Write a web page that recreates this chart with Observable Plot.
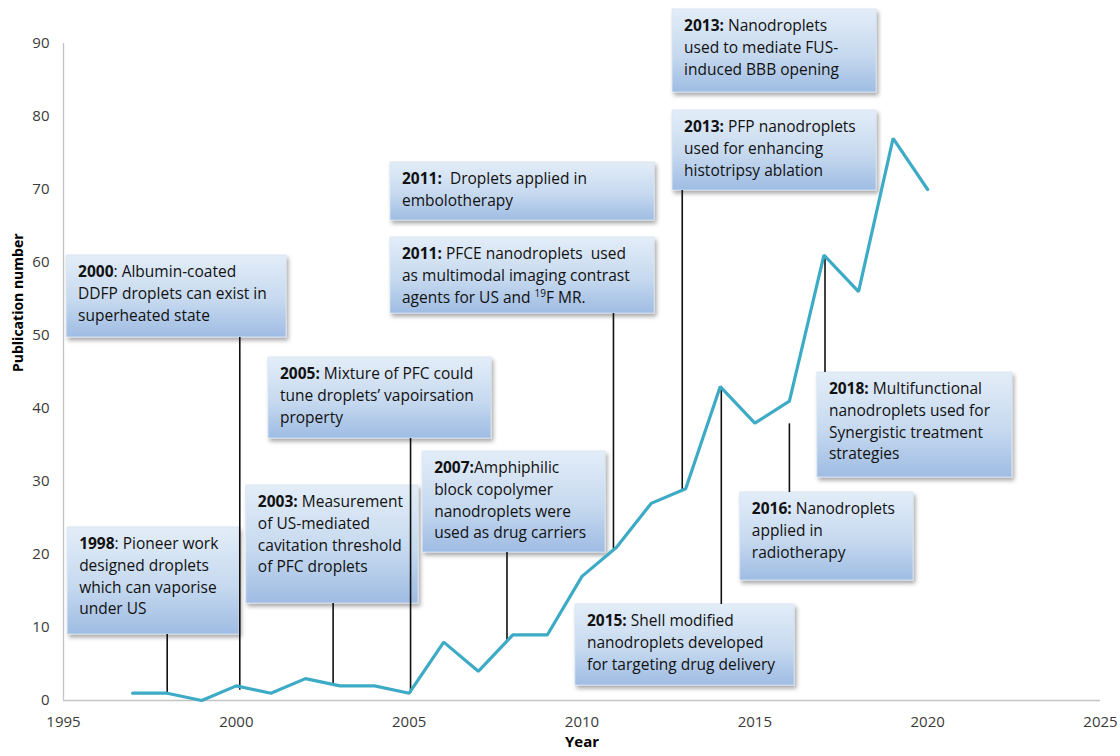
<!DOCTYPE html>
<html>
<head>
<meta charset="utf-8">
<script src="https://cdn.jsdelivr.net/npm/d3@7"></script>
<script src="https://cdn.jsdelivr.net/npm/@observablehq/plot@0.6"></script>
<style>
  html, body { margin: 0; padding: 0; background: #ffffff; }
  #chart svg { display: block; }
</style>
</head>
<body>
<div id="chart"></div>
<script>
// ---- data ----
const years  = [1997, 1998, 1999, 2000, 2001, 2002, 2003, 2004, 2005, 2006, 2007, 2008,
                2009, 2010, 2011, 2012, 2013, 2014, 2015, 2016, 2017, 2018, 2019, 2020];
const counts = [1, 1, 0, 2, 1, 3, 2, 2, 1, 8, 4, 9,
                9, 17, 21, 27, 29, 43, 38, 41, 61, 56, 77, 70];

const xTicks = [1995, 2000, 2005, 2010, 2015, 2020, 2025];
const yTicks = [0, 10, 20, 30, 40, 50, 60, 70, 80, 90];

// annotation texts: bold year label + remaining lines ("^19" = superscript)
const noteBold = ["1998", "2000", "2003:", "2005:", "2007:", "2011:", "2011:", "2013:", "2013:", "2018:", "2016:", "2015:"];
const noteLines = [
  [": Pioneer work", "designed droplets", "which can vaporise", "under US"],
  [": Albumin-coated", "DDFP droplets can exist in", "superheated state"],
  [" Measurement", "of US-mediated", "cavitation threshold", "of PFC droplets"],
  [" Mixture of PFC could", "tune droplets\u2019 vapoirsation", "property"],
  ["Amphiphilic", "block copolymer", "nanodroplets were", "used as drug carriers"],
  ["  Droplets applied in", "embolotherapy"],
  [" PFCE nanodroplets  used", "as multimodal imaging contrast", "agents for US and ^19F MR."],
  [" Nanodroplets", "used to mediate FUS-", "induced BBB opening"],
  [" PFP nanodroplets", "used for enhancing", "histotripsy ablation"],
  [" Multifunctional", "nanodroplets used for", "Synergistic treatment", "strategies"],
  [" Nanodroplets", "applied in", "radiotherapy"],
  [" Shell modified", "nanodroplets developed", "for targeting drug delivery"]
];

// annotation layout (in data units: year / publication number)
const boxX1  = [1995.12, 1995.09, 2000.29, 2000.93, 2005.39, 2004.46, 2004.46, 2012.62, 2012.62, 2016.81, 2014.58, 2009.81];
const boxX2  = [2000.09, 2001.45, 2005.27, 2007.38, 2010.68, 2012.10, 2012.10, 2018.52, 2018.52, 2022.45, 2019.59, 2016.15];
const boxTop = [23.70, 60.96, 29.45, 46.99, 34.11, 73.70, 63.42, 94.66, 80.82, 44.93, 28.49, 13.15];
const boxBot = [9.04, 49.73, 13.29, 35.89, 20.27, 65.75, 53.01, 83.29, 69.86, 30.55, 16.44, 2.05];

// leader lines from the curve to the boxes
const connX    = [1998.0, 2000.1, 2002.8, 2005.04, 2007.83, 2010.91, 2012.9, 2014.03, 2016.0, 2017.03];
const connFrom = [1.0, 1.4, 2.2, 1.0, 8.2, 20.5, 28.8, 42.7, 37.9, 60.7];
const connTo   = [9.04, 49.73, 13.29, 35.89, 20.27, 53.01, 69.86, 13.15, 28.49, 44.93];

// ---- tables ----
const series = years.map((y, i) => ({year: y, count: counts[i]}));
const boxes = boxX1.map((x1, i) => ({x1, x2: boxX2[i], top: boxTop[i], bot: boxBot[i]}));
const conns = connX.map((x, i) => ({x, y1: connFrom[i], y2: connTo[i]}));

const FONT = "'Open Sans', 'Noto Sans', sans-serif";

const plot = Plot.plot({
  width: 1120,
  height: 756,
  marginLeft: 63,
  marginRight: 20,
  marginTop: 43,
  marginBottom: 56,
  x: {domain: [1995, 2025]},
  y: {domain: [0, 90]},
  style: {fontFamily: FONT, fontSize: "15px", color: "#3a3a3a", background: "#ffffff", overflow: "visible"},
  marks: [
    Plot.ruleY([0], {stroke: "#c4c4c4", strokeWidth: 1.3}),
    Plot.ruleX([1995], {stroke: "#c4c4c4", strokeWidth: 1.3}),
    Plot.axisX({ticks: xTicks, tickSize: 0, tickPadding: 16, tickFormat: "d", label: null}),
    Plot.axisY({ticks: yTicks, tickSize: 0, tickPadding: 14, tickFormat: "d", label: null}),
    Plot.text(["Publication number"], {frameAnchor: "left", dx: -45, rotate: -90, fontWeight: "bold", fill: "#000", fontSize: 14}),
    Plot.text(["Year"], {frameAnchor: "bottom", dy: 46, fontWeight: "bold", fill: "#000", fontSize: 15}),
    Plot.rect(boxes, {x1: "x1", x2: "x2", y1: "bot", y2: "top", fill: "url(#boxGrad)", stroke: "#d6e3f3", strokeWidth: 0.8}),
    Plot.ruleX(conns, {x: "x", y1: "y1", y2: "y2", stroke: "#111", strokeWidth: 1.6}),
    Plot.line(series, {x: "year", y: "count", stroke: "#3eabc6", strokeWidth: 3.2, strokeLinejoin: "miter"})
  ]
});

document.getElementById("chart").appendChild(plot);

const svg = d3.select(plot);
const defs = svg.insert("defs", ":first-child");
const grad = defs.append("linearGradient").attr("id", "boxGrad")
  .attr("x1", 0).attr("y1", 0).attr("x2", 0).attr("y2", 1);
grad.append("stop").attr("offset", 0).attr("stop-color", "#e3edf8");
grad.append("stop").attr("offset", 0.55).attr("stop-color", "#c6d9ef");
grad.append("stop").attr("offset", 1).attr("stop-color", "#9fbce3");
const filt = defs.append("filter").attr("id", "boxShadow")
  .attr("x", "-10%").attr("y", "-10%").attr("width", "125%").attr("height", "135%");
filt.append("feDropShadow").attr("dx", 2).attr("dy", 3).attr("stdDeviation", 2)
  .attr("flood-color", "#000").attr("flood-opacity", 0.35);
svg.selectAll("g[aria-label='rect']").attr("filter", "url(#boxShadow)");

// annotation text, positioned through the plot's own scales
const sx = plot.scale("x"), sy = plot.scale("y");
const g = svg.append("g").attr("font-family", FONT)
  .attr("font-size", 15.5).attr("fill", "#111").attr("text-anchor", "start").style("white-space", "pre");
boxes.forEach((b, i) => {
  const x0 = sx.apply(b.x1) + 12;
  const y0 = sy.apply(b.top) + 22;
  const t = g.append("text").attr("x", x0).attr("y", y0);
  const lines = noteLines[i];
  lines.forEach((line, j) => {
    const ln = t.append("tspan").attr("x", x0).attr("y", y0 + j * 21.8);
    if (j === 0) ln.append("tspan").attr("font-weight", "bold").text(noteBold[i]);
    const parts = line.split(/\^(\d+)/);
    let shift = 0;
    parts.forEach((p, k) => {
      if (k % 2 === 1) {
        ln.append("tspan").attr("font-size", 10).attr("dy", -6).text(p);
        shift = 6;
      } else if (p) {
        const s = ln.append("tspan").text(p);
        if (shift) { s.attr("dy", shift); shift = 0; }
      }
    });
  });
});
</script>
</body>
</html>
